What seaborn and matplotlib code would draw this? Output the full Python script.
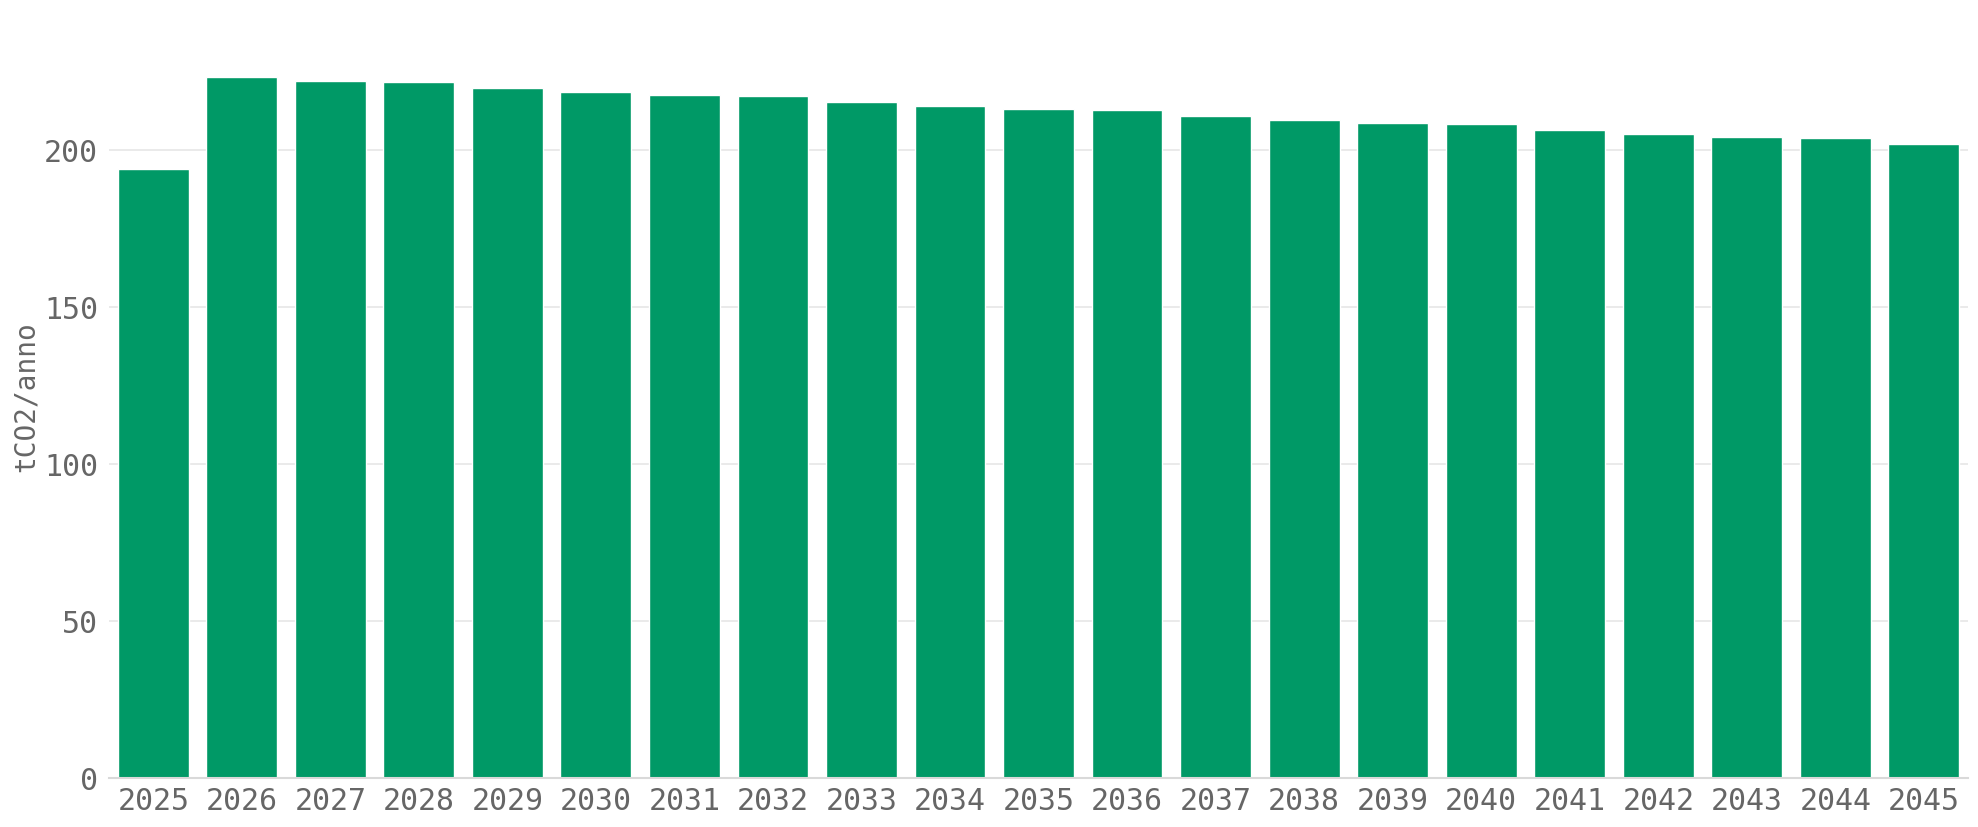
import pandas as pd
import matplotlib
matplotlib.use("Agg")
import matplotlib.pyplot as plt
import seaborn as sns

# Dati
anni = [str(a) for a in range(2025, 2046)]
emissioni = [193.9, 223.2, 222.0, 221.7, 219.7, 218.5, 217.5, 217.2, 215.3, 214.0,
             213.1, 212.7, 210.8, 209.6, 208.7, 208.4, 206.5, 205.2, 204.2, 203.9, 202.0]
ytick_vals = [0, 50, 100, 150, 200]

df = pd.DataFrame({"anno": anni, "tco2": emissioni})

sns.set_theme(style="white")
plt.rcParams["font.family"] = ["DejaVu Sans Mono"]

grigio = "#666666"

fig = plt.figure(figsize=(19.78, 8.28), dpi=100)
ax = fig.add_axes([0.0551, 0.0592, 0.9399, 0.889])

sns.barplot(data=df, x="anno", y="tco2", color="#009966", saturation=1,
            width=0.8, ax=ax, zorder=2)

ax.set_xlim(-0.5, len(anni) - 0.5)
ax.set_ylim(0, 234.4)
ax.set_yticks(ytick_vals)
ax.yaxis.grid(True, color="#e6e6e6", linewidth=1.2, zorder=0)
ax.set_axisbelow(True)

for lato in ["left", "right", "top"]:
    ax.spines[lato].set_visible(False)
ax.spines["bottom"].set_color("#d9d9d9")
ax.spines["bottom"].set_linewidth(1.5)

ax.tick_params(axis="both", colors="#888888", length=4, width=1, labelsize=21.5,
               labelcolor=grigio)
ax.tick_params(axis="y", pad=4)
ax.tick_params(axis="x", pad=2)

ax.set_xlabel("")
ax.set_ylabel("tCO2/anno", fontsize=20, color=grigio)
ax.yaxis.set_label_coords(-0.037, 0.519)

fig.savefig("out.png", dpi=100)
